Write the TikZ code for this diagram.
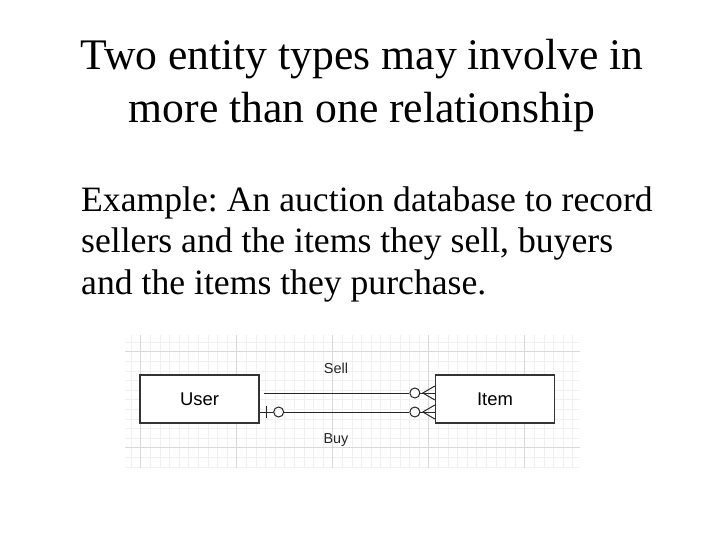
\documentclass[tikz,border=0pt]{standalone}
\usepackage{fontspec}
\setmainfont{Liberation Serif}
\newfontfamily\arialfont{Liberation Sans}
\frenchspacing
\begin{document}
\begin{tikzpicture}[x=1bp,y=-1bp,
  titletext/.style={font=\fontsize{43.8}{52}\selectfont, anchor=base, inner sep=0},
  bodytext/.style={font=\fontsize{35.8}{42}\selectfont, anchor=base west, inner sep=0},
  entity/.style={draw=black!80, line width=1.3bp, minimum width=119bp, minimum height=48bp, inner sep=0, font=\arialfont\fontsize{18.5}{22}\selectfont},
  rellabel/.style={font=\arialfont\fontsize{14.5}{17}\selectfont, inner sep=0, text=black!85},
  relline/.style={draw=black!85, line width=1bp},
  minorgrid/.style={draw=black!6, line width=0.5bp},
  majorgrid/.style={draw=black!15, line width=0.7bp}]
\useasboundingbox (0,0) rectangle (720,540);
\fill[white] (0,0) rectangle (720,540);
% title
\node[titletext] (t1) at (362,70) {Two entity types may involve in};
\node[titletext] (t2) at (362,123) {more than one relationship};
% body
\node[bodytext] (b1) at (81,212) {Example: An auction database to record};
\node[bodytext] (b2) at (81,253) {sellers and the items they sell, buyers};
\node[bodytext] (b3) at (81,294) {and the items they purchase.};
% grid
\begin{scope}
\clip (125,335) rectangle (580,468);
\foreach \i in {-2,...,47} {\draw[minorgrid] ({140.7+9.6*\i},335) -- ({140.7+9.6*\i},468);}
\foreach \j in {-2,...,12} {\draw[minorgrid] (125,{351.7+9.6*\j}) -- (580,{351.7+9.6*\j});}
\foreach \i in {0,...,4} {\draw[majorgrid] ({140.7+96*\i},335) -- ({140.7+96*\i},468);}
\foreach \j in {0,1} {\draw[majorgrid] (125,{351.7+96*\j}) -- (580,{351.7+96*\j});}
\end{scope}
% entities
\node[entity, fill=white] (user) at (199.5,399) {User};
\node[entity, fill=white] (item) at (495,399) {Item};
\node[rellabel] (sell) at (336,368) {Sell};
\node[rellabel] (buy) at (336,440) {Buy};
% Sell relationship
\coordinate (sellstart) at ([xshift=4bp]user.east |- 0,393);
\coordinate (sellend) at (item.west |- 0,393);
\node[draw=black!85, line width=1bp, circle, minimum size=10bp, inner sep=0] (sellcirc) at ([xshift=-20bp]sellend) {};
\coordinate (sellfoot) at ([xshift=-12bp]sellend);
\draw[relline] (sellstart) -- (sellcirc.west);
\draw[relline] (sellcirc.east) -- (sellend);
\draw[relline] ([yshift=-7bp]sellend) -- (sellfoot) -- ([yshift=7bp]sellend);
% Buy relationship
\coordinate (buystart) at (user.east |- 0,412);
\coordinate (buyend) at (item.west |- 0,412);
\node[draw=black!85, line width=1bp, circle, minimum size=10bp, inner sep=0] (buycircA) at ([xshift=19bp]buystart) {};
\node[draw=black!85, line width=1bp, circle, minimum size=10bp, inner sep=0] (buycircB) at ([xshift=-20bp]buyend) {};
\coordinate (buyfoot) at ([xshift=-12bp]buyend);
\draw[relline] (buystart) -- (buycircA.west);
\draw[relline] ([xshift=7bp,yshift=-6bp]buystart) -- ([xshift=7bp,yshift=6bp]buystart);
\draw[relline] (buycircA.east) -- (buycircB.west);
\draw[relline] (buycircB.east) -- (buyend);
\draw[relline] ([yshift=-7bp]buyend) -- (buyfoot) -- ([yshift=7bp]buyend);
\end{tikzpicture}
\end{document}
